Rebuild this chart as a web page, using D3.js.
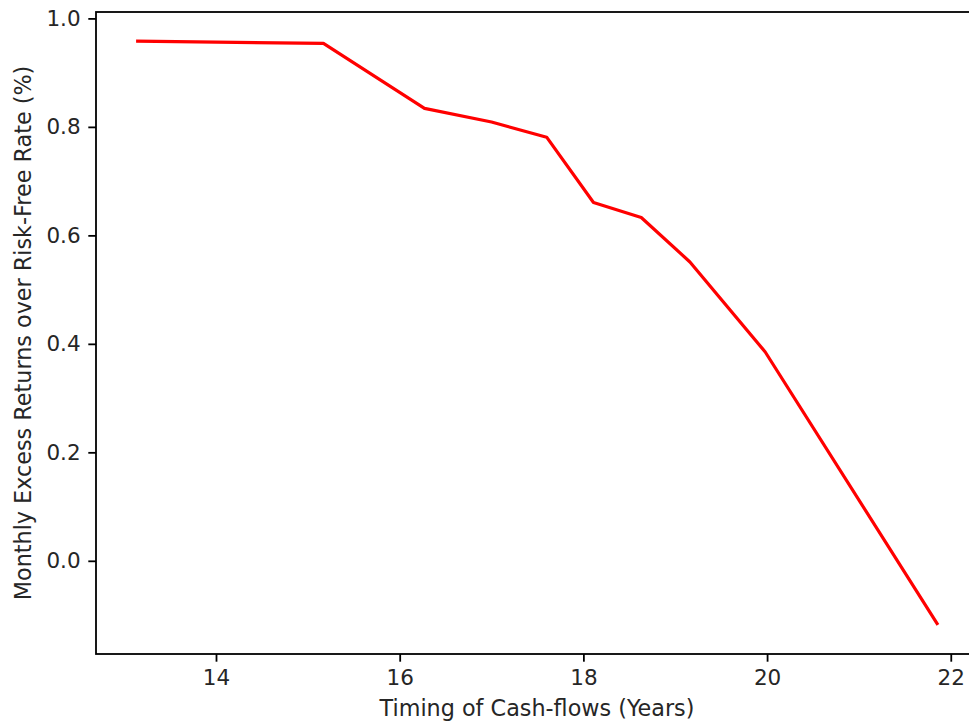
<!DOCTYPE html>
<html>
<head>
<meta charset="utf-8">
<script src="https://cdn.jsdelivr.net/npm/d3@7"></script>
<style>
  html, body { margin: 0; padding: 0; background: #fff; overflow: hidden; }
  text { font-family: "DejaVu Sans", sans-serif; fill: #262626; }
</style>
</head>
<body>
<svg id="chart" width="969" height="721"></svg>
<script>
// Timing of cash-flows (years) and the matching monthly excess return (%)
const timing = [13.13, 15.17, 16.27, 17.0, 17.6, 18.11, 18.63, 19.16, 19.98, 21.86];
const excessReturn = [0.958, 0.954, 0.834, 0.809, 0.781, 0.6605, 0.633, 0.551, 0.385, -0.118];
const xTicks = [14, 16, 18, 20, 22];
const yTicks = [0.0, 0.2, 0.4, 0.6, 0.8, 1.0];

const svg = d3.select("#chart");
const plot = { left: 96, right: 978, top: 12, bottom: 654 };
const fontSize = 21.5;
const titleSize = 22.3;
const tickLen = 7.7;
const tickPad = 7.7;

// 5% padding either side of the data range
const xPad = (d3.max(timing) - d3.min(timing)) * 0.05;
const yPad = (d3.max(excessReturn) - d3.min(excessReturn)) * 0.05;
const x = d3.scaleLinear()
  .domain([d3.min(timing) - xPad, d3.max(timing) + xPad])
  .range([plot.left, plot.right]);
const y = d3.scaleLinear()
  .domain([d3.min(excessReturn) - yPad, d3.max(excessReturn) + yPad])
  .range([plot.bottom, plot.top]);

// line
const line = d3.line().x((d, i) => x(timing[i])).y(d => y(d));
svg.append("path")
  .datum(excessReturn)
  .attr("d", line)
  .attr("fill", "none")
  .attr("stroke", "#ff0000")
  .attr("stroke-width", 3.2)
  .attr("stroke-linejoin", "round")
  .attr("stroke-linecap", "butt");

// axes
const xAxis = d3.axisBottom(x).tickValues(xTicks).tickFormat(d3.format("d"))
  .tickSizeInner(tickLen).tickSizeOuter(0).tickPadding(tickPad);
const yAxis = d3.axisLeft(y).tickValues(yTicks).tickFormat(d3.format(".1f"))
  .tickSizeInner(tickLen).tickSizeOuter(0).tickPadding(tickPad);

const gx = svg.append("g").attr("transform", `translate(0,${plot.bottom})`).call(xAxis);
const gy = svg.append("g").attr("transform", `translate(${plot.left},0)`).call(yAxis);
[gx, gy].forEach(g => {
  g.select(".domain").remove();
  g.selectAll(".tick line").attr("stroke", "#000").attr("stroke-width", 1.8);
  g.selectAll(".tick text").attr("font-size", fontSize)
    .attr("font-family", "DejaVu Sans, sans-serif").attr("fill", "#262626");
});

// frame
svg.append("rect")
  .attr("x", plot.left).attr("y", plot.top)
  .attr("width", plot.right - plot.left).attr("height", plot.bottom - plot.top)
  .attr("fill", "none").attr("stroke", "#000").attr("stroke-width", 1.8);

// axis titles
svg.append("text")
  .attr("x", (plot.left + plot.right) / 2)
  .attr("y", 716)
  .attr("text-anchor", "middle")
  .attr("font-size", titleSize)
  .text("Timing of Cash-flows (Years)");

svg.append("text")
  .attr("transform", `translate(31,${(plot.top + plot.bottom) / 2}) rotate(-90)`)
  .attr("text-anchor", "middle")
  .attr("font-size", titleSize)
  .text("Monthly Excess Returns over Risk-Free Rate (%)");
</script>
</body>
</html>
